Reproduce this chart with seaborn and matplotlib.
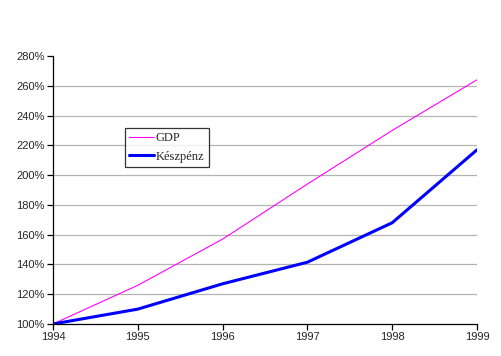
import numpy as np
import pandas as pd
import seaborn as sns
import matplotlib
matplotlib.use("Agg")
import matplotlib.pyplot as plt
from matplotlib.ticker import FuncFormatter

years = [1994, 1995, 1996, 1997, 1998, 1999]
gdp = [100, 126, 157, 194, 230, 264]
keszpenz = [100, 110, 127, 141.5, 168, 217]

sns.set_style("white")
plt.rcParams['font.family'] = ['Liberation Sans', 'DejaVu Sans']

fig = plt.figure(figsize=(5.02, 3.56), dpi=100)
ax = fig.add_axes([53/502, 1 - 324/356, 424/502, 268/356])

df = pd.DataFrame({"year": years, "GDP": gdp, "Készpénz": keszpenz})
sns.lineplot(data=df, x="year", y="GDP", ax=ax, color="#FF00FF", linewidth=0.8, label="GDP")
sns.lineplot(data=df, x="year", y="Készpénz", ax=ax, color="#0000FF", linewidth=2.2, label="Készpénz")

ax.set_xlim(1994, 1999)
ax.set_ylim(100, 280)
ax.set_xticks(years)
ax.set_yticks(np.arange(100, 281, 20))
ax.yaxis.set_major_formatter(FuncFormatter(lambda v, p: f"{int(v)}%"))
ax.set_xlabel("")
ax.set_ylabel("")

for y in range(120, 261, 20):
    ax.axhline(y, color="#B4B4B4", linewidth=0.9, zorder=0)

for s in ["top", "right"]:
    ax.spines[s].set_visible(False)
for s in ["left", "bottom"]:
    ax.spines[s].set_color("black")
    ax.spines[s].set_linewidth(0.9)
ax.tick_params(axis="both", direction="out", length=4, width=0.9, color="black",
               labelsize=8, pad=2, left=True, bottom=True)

leg = ax.legend(loc="upper left", bbox_to_anchor=(0.17, 0.731), frameon=True,
                borderaxespad=0, fancybox=False, borderpad=0.35, handlelength=2.0,
                handletextpad=0.1, labelspacing=0.5,
                prop={"family": "Liberation Serif", "size": 9})
leg.get_frame().set_edgecolor("black")
leg.get_frame().set_linewidth(0.9)

fig.savefig("out.png", dpi=100)
